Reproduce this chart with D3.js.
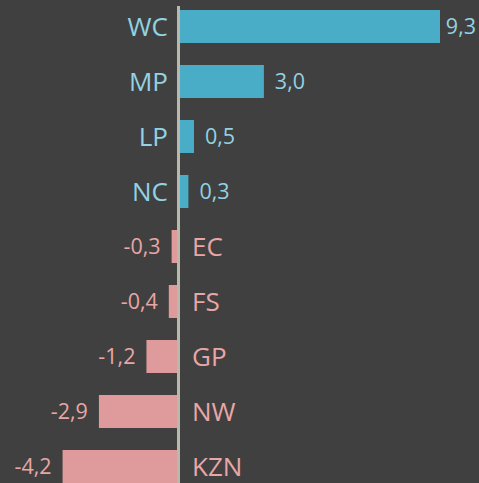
<!DOCTYPE html>
<html><head><meta charset="utf-8">
<script src="https://cdn.jsdelivr.net/npm/d3@7"></script>
<style>html,body{margin:0;padding:0;background:#404040;overflow:hidden}</style>
</head><body>
<script>
const categories = ["WC","MP","LP","NC","EC","FS","GP","NW","KZN"];
const values = [9.3,3.0,0.5,0.3,-0.3,-0.4,-1.2,-2.9,-4.2];
const valueLabels = ["9,3","3,0","0,5","0,3","-0,3","-0,4","-1,2","-2,9","-4,2"];

const W = 479, H = 483;
const svg = d3.select("body").append("svg").attr("width", W).attr("height", H)
  .style("display","block").style("background","#404040");

const x = d3.scaleLinear().domain([0, 9.3]).range([180, 440]);
const y = d3.scaleBand().domain(categories).range([-1, 494]).paddingInner(0.4).paddingOuter(0.2);

const posBar = "#4aadc8", negBar = "#df9b9b";
const posText = "#92d2e2", negText = "#e8a6a6";
const font = "'Open Sans','Segoe UI',sans-serif";

const g = svg.append("g");
categories.forEach((c, i) => {
  const v = values[i];
  const pos = v >= 0;
  const x0 = x(Math.min(0, v)), x1 = x(Math.max(0, v));
  g.append("rect").attr("x", x0).attr("y", y(c)).attr("width", x1 - x0).attr("height", y.bandwidth())
    .attr("fill", pos ? posBar : negBar);
  const cy = y(c) + y.bandwidth() / 2;
  g.append("text").attr("x", pos ? x(0) - 12 : x(0) + 12).attr("y", cy)
    .attr("dy", "0.36em").attr("text-anchor", pos ? "end" : "start")
    .attr("font-family", font).attr("font-size", 26).attr("fill", pos ? posText : negText).text(c);
  const t = g.append("text").attr("x", pos ? x1 + 11 : x0 - 11).attr("y", cy)
    .attr("dy", "0.36em").attr("text-anchor", pos ? "start" : "end")
    .attr("font-family", font).attr("font-size", 21.5).attr("fill", pos ? posText : negText).text(valueLabels[i]);
  const bb = t.node().getBBox();
  if (bb.x + bb.width > W - 3) t.attr("x", W - 3 - bb.width);
});

svg.append("line").attr("x1", x(0) - 1.5).attr("x2", x(0) - 1.5).attr("y1", 6).attr("y2", H)
  .attr("stroke", "#b9b9ab").attr("stroke-width", 3);
</script>
</body></html>
